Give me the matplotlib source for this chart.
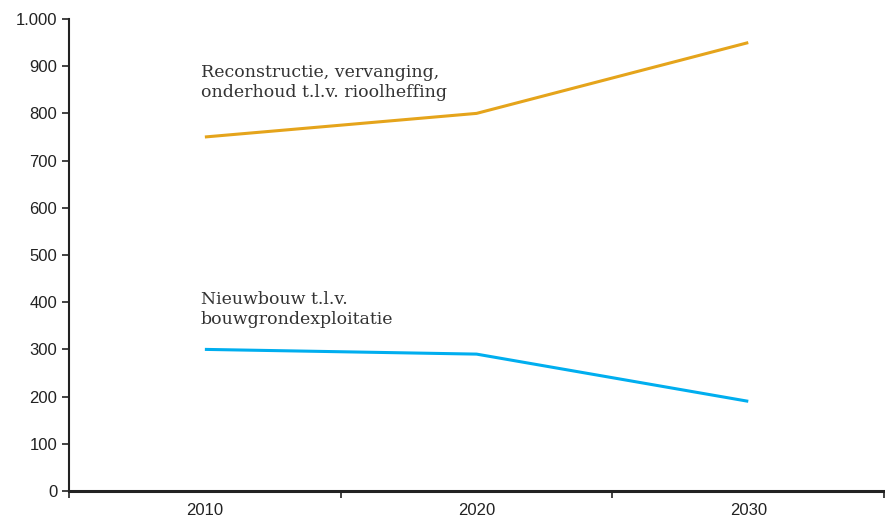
import matplotlib.pyplot as plt
from matplotlib.ticker import FuncFormatter

years = ["2010", "2020", "2030"]
riool = [750, 800, 950]
grondexpl = [300, 290, 190]
riool_label = "Reconstructie, vervanging,\nonderhoud t.l.v. rioolheffing"
grond_label = "Nieuwbouw t.l.v.\nbouwgrondexploitatie"

plt.rcParams["font.family"] = ["Liberation Sans", "DejaVu Sans"]

fig = plt.figure(figsize=(8.85, 5.23), dpi=100)
ax = fig.add_axes([0.078, 0.0612, 0.921, 0.9025])

x = list(range(len(years)))
ax.plot(x, riool, color="#E5A41B", lw=2.2, solid_capstyle="butt")
ax.plot(x, grondexpl, color="#00AEEF", lw=2.2, solid_capstyle="butt")

# labels next to the lines
ax.text(-0.015, 866, riool_label, ha="left", va="center", fontsize=12.5,
        family="DejaVu Serif", color="#333333", linespacing=1.2)
ax.text(-0.015, 384, grond_label, ha="left", va="center", fontsize=12.5,
        family="DejaVu Serif", color="#333333", linespacing=1.2)

ax.set_xlim(-0.5, 2.5)
ax.set_ylim(0, 1000)
ax.set_yticks(range(0, 1001, 100))
ax.yaxis.set_major_formatter(FuncFormatter(lambda v, p: f"{int(v):,}".replace(",", ".")))

# category ticks sit between the years, labels centred under them
ax.set_xticks([-0.5, 0.5, 1.5, 2.5])
ax.set_xticklabels([])
ax.set_xticks(x, minor=True)
ax.set_xticklabels(years, minor=True)
ax.tick_params(axis="x", which="minor", length=0, pad=9, labelsize=12, colors="#222222")
ax.tick_params(axis="x", which="major", length=5, width=1.2, direction="out", color="#222222")
ax.tick_params(axis="y", length=5, width=1.2, direction="out", labelsize=12, colors="#222222")

for s in ["top", "right"]:
    ax.spines[s].set_visible(False)
ax.spines["left"].set_linewidth(1.5)
ax.spines["bottom"].set_linewidth(2.2)
ax.spines["left"].set_color("#222222")
ax.spines["bottom"].set_color("#222222")

fig.savefig("out.png", dpi=100)
